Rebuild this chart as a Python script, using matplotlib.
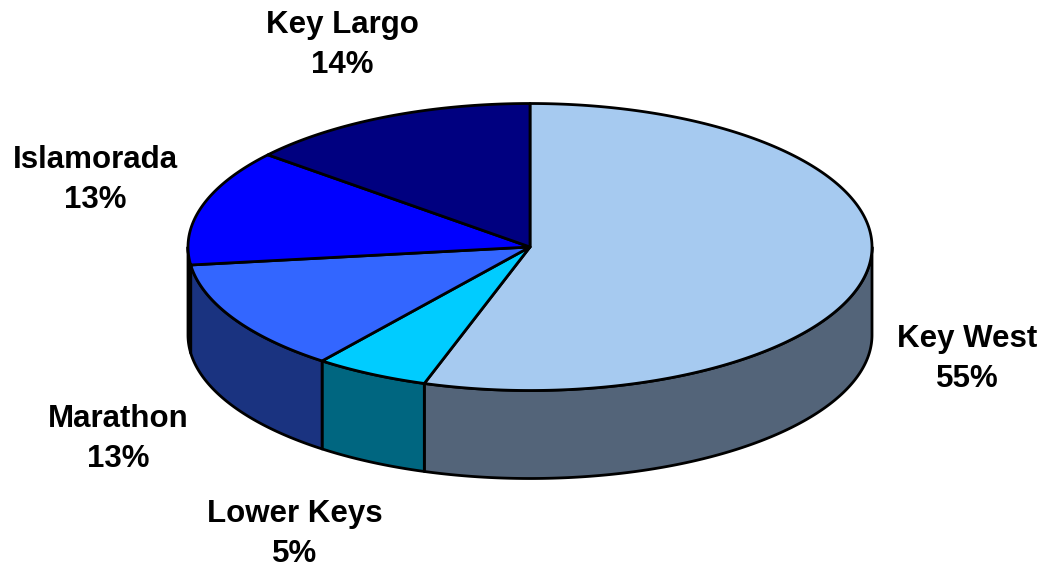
import numpy as np
import matplotlib
matplotlib.use("Agg")
import matplotlib.pyplot as plt
from matplotlib.patches import Polygon

# ---- data ----
categories = ["Key West", "Lower Keys", "Marathon", "Islamorada", "Key Largo"]
values = [55.0, 5.4, 12.6, 13.1, 13.9]
top_colors = ["#A6CAF0", "#00CCFF", "#3366FF", "#0000FF", "#000080"]
side_colors = ["#536479", "#006680", "#1A3380", "#000080", "#000040"]
label_pos = [(967, 359), (295, 534), (118, 439), (95, 180), (342, 45)]

# ---- geometry (pixel coordinates, y down) ----
cx, cy = 530, 247
rx, ry = 342, 143.5
depth = 88

fig = plt.figure(figsize=(10.46, 5.69), dpi=100)
ax = fig.add_axes([0, 0, 1, 1])
ax.set_xlim(0, 1046)
ax.set_ylim(569, 0)
ax.axis("off")

def pt(theta_deg, dy=0.0):
    t = np.radians(theta_deg)
    return np.column_stack([cx + rx * np.cos(t), cy - ry * np.sin(t) + dy])

total = float(sum(values))
starts, ends = [], []
a = 90.0
for v in values:
    b = a - 360.0 * v / total
    starts.append(a)
    ends.append(b)
    a = b

lw = 2.0
# side walls
for i in range(len(values)):
    lo, hi = ends[i], starts[i]
    for k in range(-2, 3):
        f0, f1 = 180 + 360 * k, 360 + 360 * k
        s0, s1 = max(lo, f0), min(hi, f1)
        if s1 - s0 > 1e-6:
            th = np.linspace(s0, s1, 200)
            top = pt(th)
            bot = pt(th[::-1], depth)
            poly = Polygon(np.vstack([top, bot]), closed=True,
                           facecolor=side_colors[i], edgecolor="black",
                           linewidth=lw, joinstyle="round", zorder=1)
            ax.add_patch(poly)

# top wedges
for i in range(len(values)):
    th = np.linspace(starts[i], ends[i], 400)
    arc = pt(th)
    verts = np.vstack([[cx, cy], arc])
    poly = Polygon(verts, closed=True, facecolor=top_colors[i],
                   edgecolor="black", linewidth=lw, joinstyle="round", zorder=2)
    ax.add_patch(poly)

# labels
for i, name in enumerate(categories):
    x, y = label_pos[i]
    ax.text(x, y, f"{name}\n{values[i]:.0f}%", ha="center", va="center",
            fontsize=22.5, fontweight="bold", family="Liberation Sans",
            linespacing=1.42, zorder=3)

fig.savefig("out.png", dpi=100)
